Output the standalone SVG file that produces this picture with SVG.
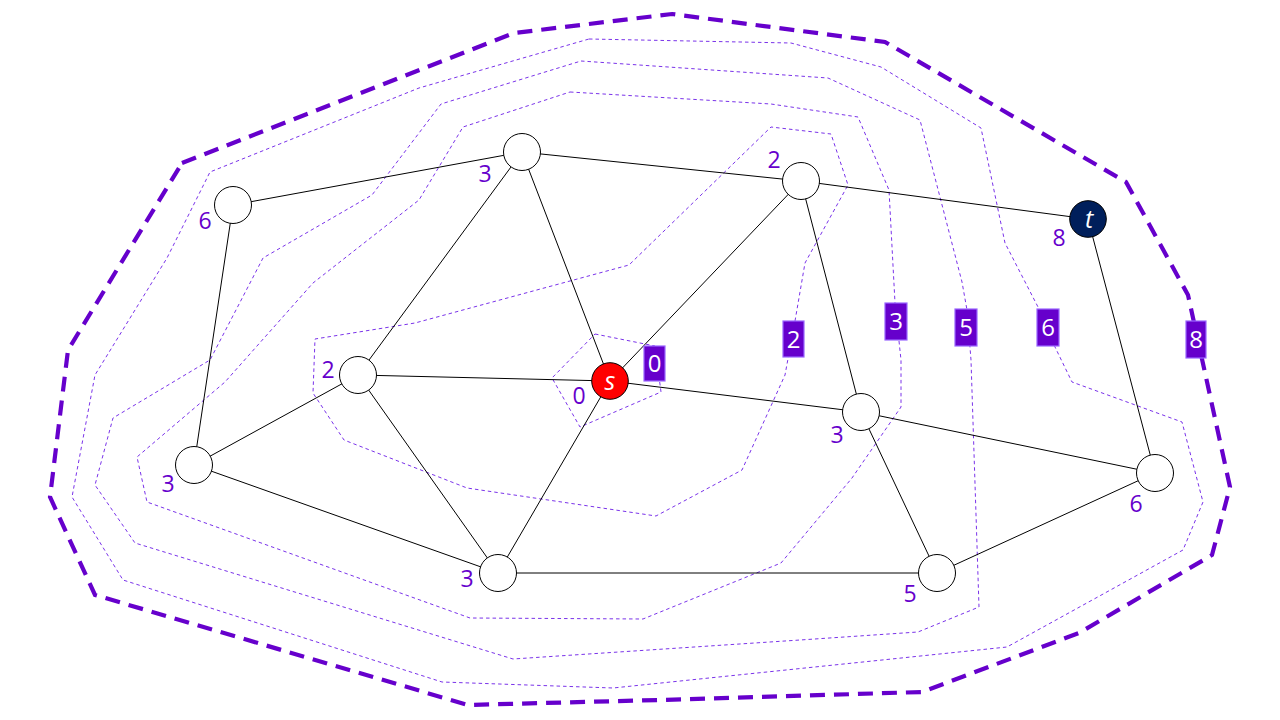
<svg xmlns="http://www.w3.org/2000/svg" width="1280" height="720" viewBox="0 0 1280 720">
<style>
.c{fill:none;stroke:#7a33ea;stroke-width:1;stroke-dasharray:3.5 3}
.thick{fill:none;stroke:#6600cc;stroke-width:4.2;stroke-dasharray:15 9}
.e{stroke:#000;stroke-width:1}
.n{fill:#fff;stroke:#000;stroke-width:1}
.lbl{font-family:"Open Sans","DejaVu Sans",sans-serif;font-size:23px;fill:#6600cc;text-anchor:middle}
.box{fill:#6600cc;stroke:#9a66ff;stroke-width:1.2}
.bt{font-family:"Open Sans","DejaVu Sans",sans-serif;font-size:24px;fill:#fff;text-anchor:middle}
.nt{font-family:"Open Sans","DejaVu Sans",sans-serif;font-size:25px;font-style:italic;fill:#fff;text-anchor:middle}
</style>
<rect width="1280" height="720" fill="#fff"/>
<g id="contours">
<polygon class="thick" points="182,163 514,33 672,14 885,42 1126,182 1188,295 1230,487 1212,555 1079,633 922,692 660,700 468,705 95,595 50,497 68,350"/>
<polygon class="c" points="589,39 791,43 881,67 981,128 1005,243 1038,307 1055,347 1072,382 1182,422 1203,502 1183,550 1007,647 613,688 442,682 123,580 72,497 95,375 167,258 210,172 419,88"/>
<polygon class="c" points="581,61 828,78 920,120 962,282 967,310 971,360 979,607 918,632 800,640 513,659 135,543 95,485 113,418 210,360 263,258 372,195 441,104"/>
<polygon class="c" points="570,92 771,104 858,117 889,190 895,303 901,360 901,407 852,478 781,563 643,619 470,618 147,502 137,457 225,382 313,283 419,200 463,127"/>
<polygon class="c" points="795,321 805,263 848,185 831,134 771,127 629,265 415,323 315,339 313,393 344,440 467,488 656,516 742,470 785,375"/>
<polygon class="c" points="595,334 655,346 661,392 580,427 552,378"/>
</g>
<g id="edges">
<line class="e" x1="233" y1="205" x2="522" y2="152"/>
<line class="e" x1="522" y1="152" x2="801" y2="181"/>
<line class="e" x1="801" y1="181" x2="1088" y2="219"/>
<line class="e" x1="233" y1="205" x2="194" y2="465"/>
<line class="e" x1="522" y1="152" x2="358" y2="375"/>
<line class="e" x1="522" y1="152" x2="610" y2="381"/>
<line class="e" x1="801" y1="181" x2="610" y2="381"/>
<line class="e" x1="801" y1="181" x2="861" y2="412"/>
<line class="e" x1="1088" y1="219" x2="1155" y2="473"/>
<line class="e" x1="358" y1="375" x2="610" y2="381"/>
<line class="e" x1="358" y1="375" x2="194" y2="465"/>
<line class="e" x1="358" y1="375" x2="498" y2="573"/>
<line class="e" x1="610" y1="381" x2="498" y2="573"/>
<line class="e" x1="610" y1="381" x2="861" y2="412"/>
<line class="e" x1="861" y1="412" x2="1155" y2="473"/>
<line class="e" x1="861" y1="412" x2="937" y2="573"/>
<line class="e" x1="194" y1="465" x2="498" y2="573"/>
<line class="e" x1="498" y1="573" x2="937" y2="573"/>
<line class="e" x1="937" y1="573" x2="1155" y2="473"/>
</g>
<g id="contour-labels">
<rect class="box" x="644" y="346" width="21" height="35"/><text class="bt" x="654.5" y="372">0</text>
<rect class="box" x="783" y="321" width="21" height="36"/><text class="bt" x="793.5" y="348">2</text>
<rect class="box" x="885" y="303" width="22" height="37"/><text class="bt" x="896" y="330">3</text>
<rect class="box" x="955" y="309" width="22" height="37"/><text class="bt" x="966" y="336">5</text>
<rect class="box" x="1037" y="309" width="22" height="37"/><text class="bt" x="1048" y="336">6</text>
<rect class="box" x="1186" y="321" width="20" height="37"/><text class="bt" x="1196" y="348">8</text>
</g>
<g id="node-A"><circle class="n" cx="522" cy="152" r="18.5"/><text class="lbl" x="485" y="182">3</text></g>
<g id="node-B"><circle class="n" cx="233" cy="205" r="18.5"/><text class="lbl" x="205" y="229">6</text></g>
<g id="node-C"><circle class="n" cx="801" cy="181" r="18.5"/><text class="lbl" x="774" y="168">2</text></g>
<g id="node-t"><circle cx="1088" cy="219" r="18.3" fill="#001f5b" stroke="#000" stroke-width="1"/><text class="nt" x="1089" y="228">t</text><text class="lbl" x="1059" y="246">8</text></g>
<g id="node-D"><circle class="n" cx="358" cy="375" r="18.5"/><text class="lbl" x="328" y="378">2</text></g>
<g id="node-s"><circle cx="610" cy="381" r="18.3" fill="#ff0000" stroke="#000" stroke-width="1"/><text class="nt" x="610" y="390">s</text><text class="lbl" x="579" y="404">0</text></g>
<g id="node-E"><circle class="n" cx="861" cy="412" r="18.5"/><text class="lbl" x="837" y="443">3</text></g>
<g id="node-F"><circle class="n" cx="194" cy="465" r="18.5"/><text class="lbl" x="168" y="492">3</text></g>
<g id="node-G"><circle class="n" cx="1155" cy="473" r="18.5"/><text class="lbl" x="1136" y="512">6</text></g>
<g id="node-H"><circle class="n" cx="498" cy="573" r="18.5"/><text class="lbl" x="467" y="587">3</text></g>
<g id="node-I"><circle class="n" cx="937" cy="573" r="18.5"/><text class="lbl" x="910" y="602">5</text></g>
</svg>
